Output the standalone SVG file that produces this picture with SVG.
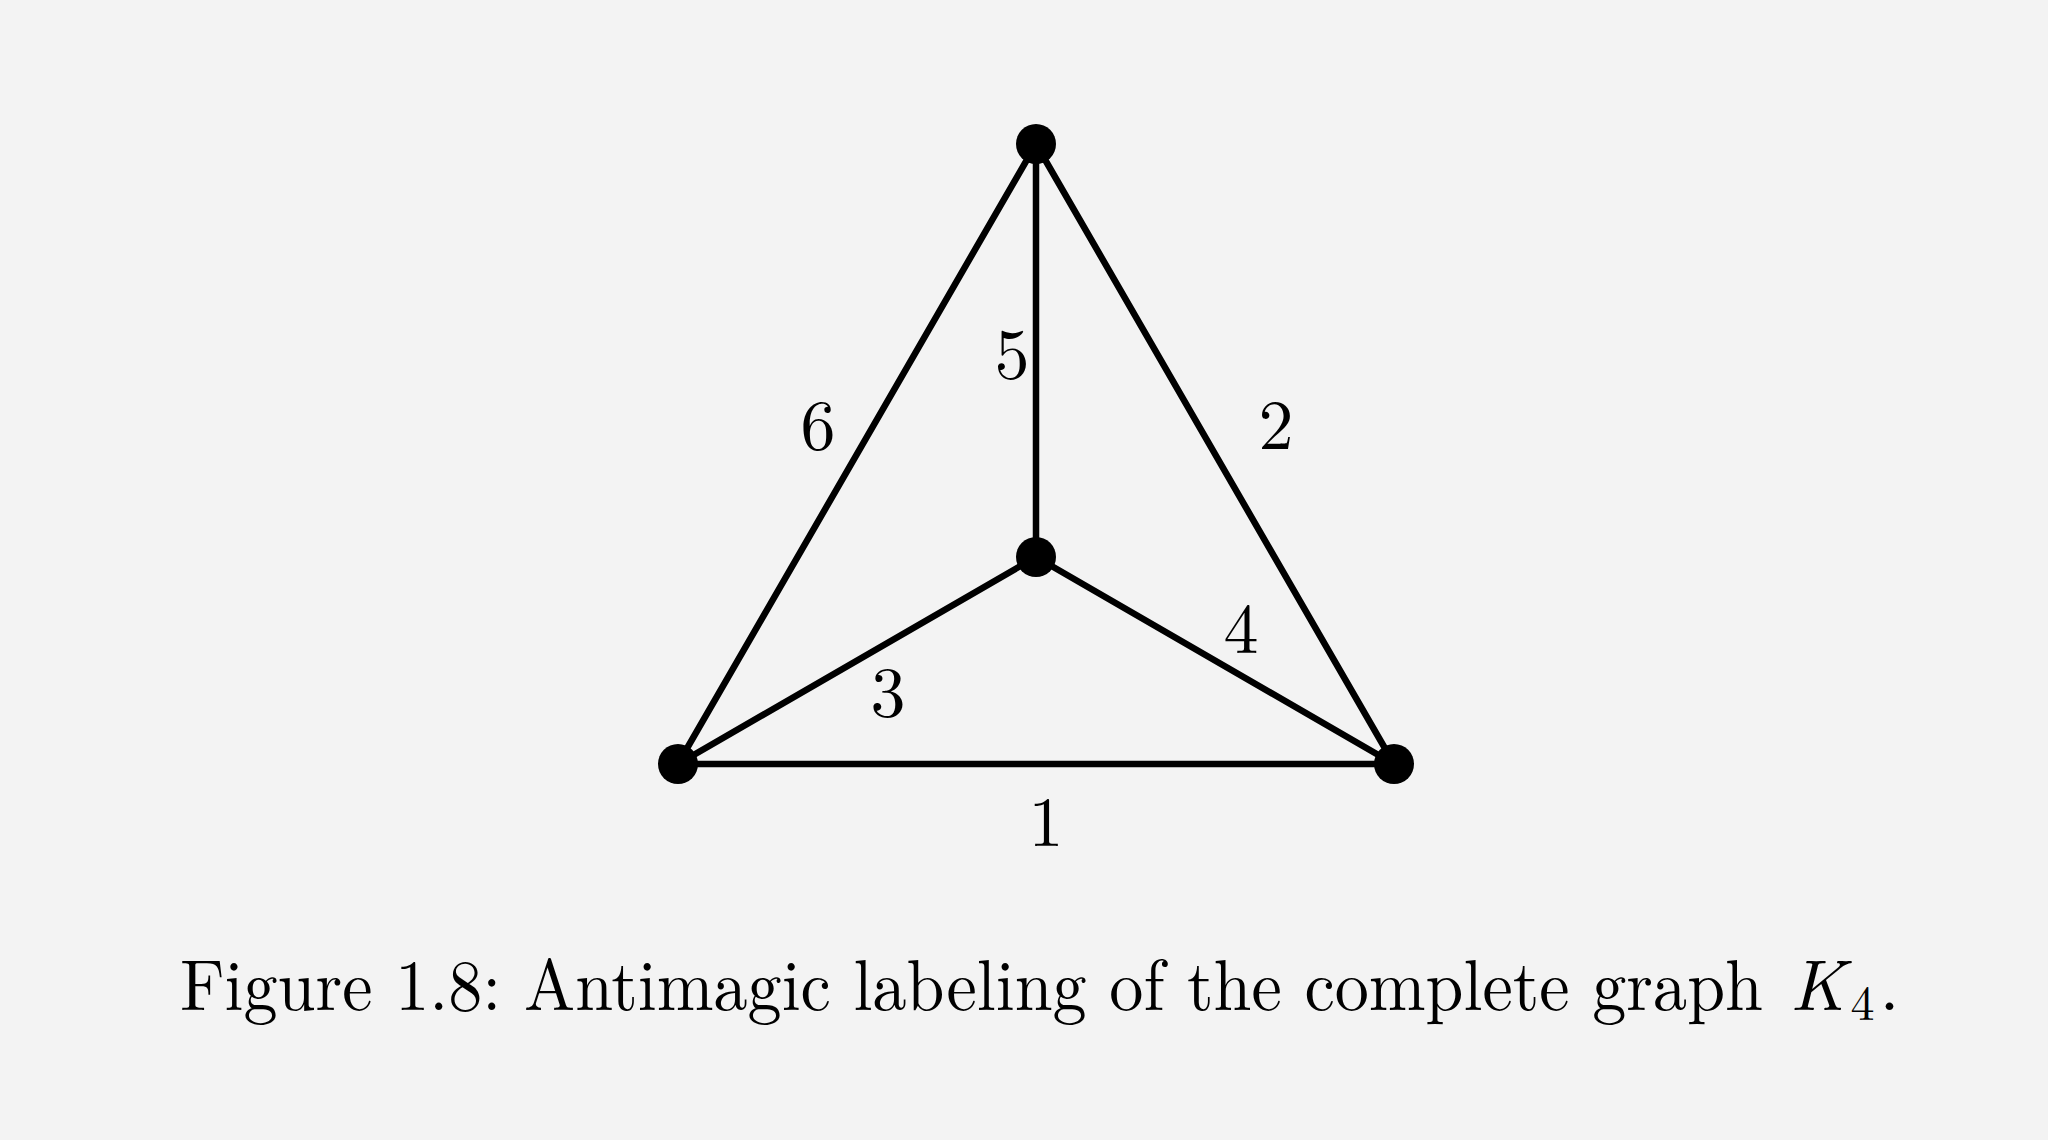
<svg xmlns="http://www.w3.org/2000/svg" width="2048" height="1140" viewBox="0 0 2048 1140">
<style>
.edge{stroke:#000;stroke-width:6.5;stroke-linecap:round;fill:none}
.vtx{fill:#000}
.lbl{font-family:"Latin Modern Roman","Liberation Serif","DejaVu Serif",serif;font-size:70px;fill:#000;text-anchor:middle}
.cap{font-family:"Latin Modern Roman","Liberation Serif","DejaVu Serif",serif;font-size:72px;fill:#000}
</style>
<rect width="2048" height="1140" fill="#f3f3f3"/>
<g id="edges">
<line class="edge" x1="1036" y1="144" x2="678" y2="764"/>
<line class="edge" x1="1036" y1="144" x2="1394" y2="764"/>
<line class="edge" x1="1036" y1="144" x2="1036" y2="557"/>
<line class="edge" x1="1036" y1="557" x2="678" y2="764"/>
<line class="edge" x1="1036" y1="557" x2="1394" y2="764"/>
<line class="edge" x1="678" y1="764" x2="1394" y2="764"/>
</g>
<g id="edge-labels">
<text class="lbl" x="818" y="449">6</text>
<text class="lbl" x="1012" y="378">5</text>
<text class="lbl" x="1276" y="449">2</text>
<text class="lbl" x="1241" y="653">4</text>
<text class="lbl" x="888" y="716">3</text>
<text class="lbl" x="1046" y="846">1</text>
</g>
<g id="v-top"><circle class="vtx" cx="1036" cy="144" r="20"/></g>
<g id="v-center"><circle class="vtx" cx="1036" cy="557" r="20"/></g>
<g id="v-left"><circle class="vtx" cx="678" cy="764" r="20"/></g>
<g id="v-right"><circle class="vtx" cx="1394" cy="764" r="20"/></g>
<g id="caption">
<text class="cap" x="180" y="1010" textLength="1583" lengthAdjust="spacingAndGlyphs">Figure 1.8: Antimagic labeling of the complete graph</text>
<text class="cap" x="1790" y="1010"><tspan font-style="italic">K</tspan><tspan font-size="48" dx="5" dy="10">4</tspan><tspan dx="5" dy="-10">.</tspan></text>
</g>
</svg>
